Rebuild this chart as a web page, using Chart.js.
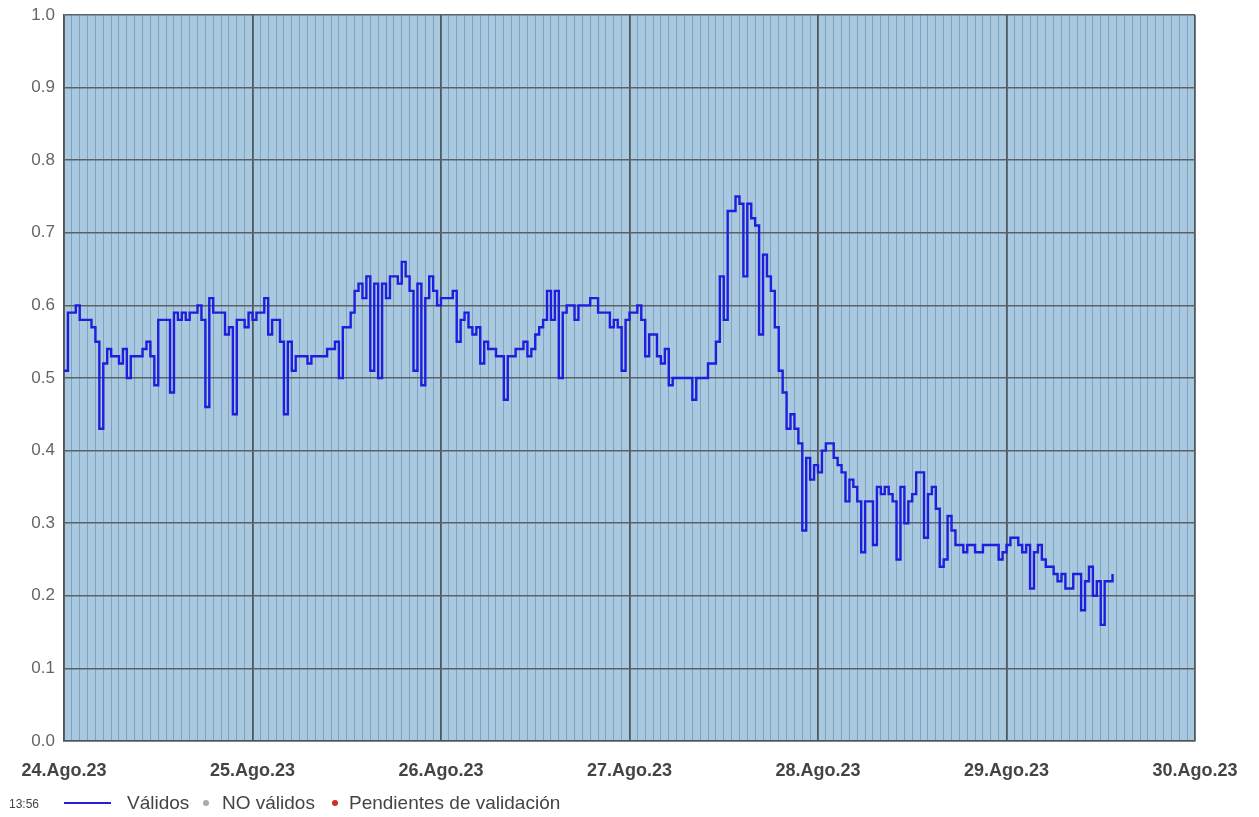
<!DOCTYPE html>
<html>
<head>
<meta charset="utf-8">
<script src="https://cdn.jsdelivr.net/npm/chart.js@4"></script>
<style>
  body { margin: 0; background: #fff; font-family: "Liberation Sans", Arial, sans-serif; }
  #wrap { position: absolute; left: 0; top: 0; width: 1259px; height: 817px; }
  #legend { position: absolute; left: 0; top: 792px; width: 700px; height: 22px; color: #444; font-size: 19px; }
  #legend span { position: absolute; top: 0; line-height: 22px; white-space: nowrap; }
  #legend .time { font-size: 12px; left: 9px; top: 1px; }
  #legend .line { left: 64px; top: 10px; width: 47px; height: 2px; background: #2020d8; }
  #legend .dot { top: 8px; width: 6px; height: 6px; border-radius: 3px; }
</style>
</head>
<body>
<div id="wrap"><canvas id="myChart" width="1259" height="817"></canvas></div>
<div id="legend">
  <span class="time">13:56</span>
  <span class="line"></span>
  <span style="left:127px">Válidos</span>
  <span class="dot" style="left:203px;background:#aaaaaa"></span>
  <span style="left:222px">NO válidos</span>
  <span class="dot" style="left:332px;background:#c8321e"></span>
  <span style="left:349px">Pendientes de validación</span>
</div>
<script>
// half-hourly readings starting 24.Ago.23 00:00
const stepHours = 0.5;
const dayLabels = ["24.Ago.23", "25.Ago.23", "26.Ago.23", "27.Ago.23", "28.Ago.23", "29.Ago.23", "30.Ago.23"];
const validos = [
    0.51, 0.59, 0.59, 0.60, 0.58, 0.58, 0.58, 0.57, 0.55, 0.43,
    0.52, 0.54, 0.53, 0.53, 0.52, 0.54, 0.50, 0.53, 0.53, 0.53,
    0.54, 0.55, 0.53, 0.49, 0.58, 0.58, 0.58, 0.48, 0.59, 0.58,
    0.59, 0.58, 0.59, 0.59, 0.60, 0.58, 0.46, 0.61, 0.59, 0.59,
    0.59, 0.56, 0.57, 0.45, 0.58, 0.58, 0.57, 0.59, 0.58, 0.59,
    0.59, 0.61, 0.56, 0.58, 0.58, 0.55, 0.45, 0.55, 0.51, 0.53,
    0.53, 0.53, 0.52, 0.53, 0.53, 0.53, 0.53, 0.54, 0.54, 0.55,
    0.50, 0.57, 0.57, 0.59, 0.62, 0.63, 0.61, 0.64, 0.51, 0.63,
    0.50, 0.63, 0.61, 0.64, 0.64, 0.63, 0.66, 0.64, 0.62, 0.51,
    0.63, 0.49, 0.61, 0.64, 0.62, 0.60, 0.61, 0.61, 0.61, 0.62,
    0.55, 0.58, 0.59, 0.57, 0.56, 0.57, 0.52, 0.55, 0.54, 0.54,
    0.53, 0.53, 0.47, 0.53, 0.53, 0.54, 0.54, 0.55, 0.53, 0.54,
    0.56, 0.57, 0.58, 0.62, 0.58, 0.62, 0.50, 0.59, 0.60, 0.60,
    0.58, 0.60, 0.60, 0.60, 0.61, 0.61, 0.59, 0.59, 0.59, 0.57,
    0.58, 0.57, 0.51, 0.58, 0.59, 0.59, 0.60, 0.58, 0.53, 0.56,
    0.56, 0.53, 0.52, 0.54, 0.49, 0.50, 0.50, 0.50, 0.50, 0.50,
    0.47, 0.50, 0.50, 0.50, 0.52, 0.52, 0.55, 0.64, 0.58, 0.73,
    0.73, 0.75, 0.74, 0.64, 0.74, 0.72, 0.71, 0.56, 0.67, 0.64,
    0.62, 0.57, 0.51, 0.48, 0.43, 0.45, 0.43, 0.41, 0.29, 0.39,
    0.36, 0.38, 0.37, 0.40, 0.41, 0.41, 0.39, 0.38, 0.37, 0.33,
    0.36, 0.35, 0.33, 0.26, 0.33, 0.33, 0.27, 0.35, 0.34, 0.35,
    0.34, 0.33, 0.25, 0.35, 0.30, 0.33, 0.34, 0.37, 0.37, 0.28,
    0.34, 0.35, 0.32, 0.24, 0.25, 0.31, 0.29, 0.27, 0.27, 0.26,
    0.27, 0.27, 0.26, 0.26, 0.27, 0.27, 0.27, 0.27, 0.25, 0.26,
    0.27, 0.28, 0.28, 0.27, 0.26, 0.27, 0.21, 0.26, 0.27, 0.25,
    0.24, 0.24, 0.23, 0.22, 0.23, 0.21, 0.21, 0.23, 0.23, 0.18,
    0.22, 0.24, 0.20, 0.22, 0.16, 0.22, 0.22, 0.23
];

const points = validos.map((v, i) => ({ x: i * stepHours, y: v }));

// light blue plot background
const plotBg = {
    id: "plotBg",
    beforeDraw(chart) {
        const a = chart.chartArea;
        const ctx = chart.ctx;
        ctx.save();
        ctx.fillStyle = "#a9c9e0";
        ctx.fillRect(a.left, a.top, a.right - a.left, a.bottom - a.top);
        ctx.restore();
    }
};

const ctx = document.getElementById("myChart").getContext("2d");
const myChart = new Chart(ctx, {
    type: "line",
    data: {
        datasets: [
            {
                label: "Válidos",
                data: points,
                stepped: true,
                borderColor: "#1e1edc",
                borderWidth: 2.4,
                pointRadius: 0,
                fill: false
            }
        ]
    },
    options: {
        responsive: false,
        animation: false,
        layout: { padding: { top: 15, right: 64, left: 0, bottom: 31 } },
        plugins: { legend: { display: false }, tooltip: { enabled: false } },
        scales: {
            x: {
                type: "linear",
                min: 0,
                max: 144,
                afterFit: s => { s.height = 45; s.paddingLeft = 0; s.paddingRight = 0; },
                border: { display: true, color: "#555", width: 1.5 },
                grid: {
                    drawTicks: false,
                    color: c => (c.tick && c.tick.value % 24 === 0) ? "#50585e" : "rgba(95,130,160,0.55)",
                    lineWidth: c => (c.tick && c.tick.value % 24 === 0) ? 1.8 : 1
                },
                ticks: {
                    stepSize: 1,
                    autoSkip: false,
                    maxTicksLimit: 500,
                    maxRotation: 0,
                    padding: 19,
                    color: "#444",
                    font: { family: "'Liberation Sans', Arial, sans-serif", size: 18, weight: "bold" },
                    callback: v => (v % 24 === 0) ? dayLabels[v / 24] : ""
                }
            },
            y: {
                min: 0,
                max: 1,
                afterFit: s => { s.width = 64; s.paddingTop = 0; s.paddingBottom = 0; },
                border: { display: true, color: "#555", width: 1.5 },
                grid: { drawTicks: false, color: "#5a6268", lineWidth: 1.5 },
                ticks: {
                    stepSize: 0.1,
                    padding: 9,
                    color: "#666",
                    font: { family: "'Liberation Sans', Arial, sans-serif", size: 17 },
                    callback: v => v.toFixed(1)
                }
            }
        }
    },
    plugins: [plotBg]
});
</script>
</body>
</html>
